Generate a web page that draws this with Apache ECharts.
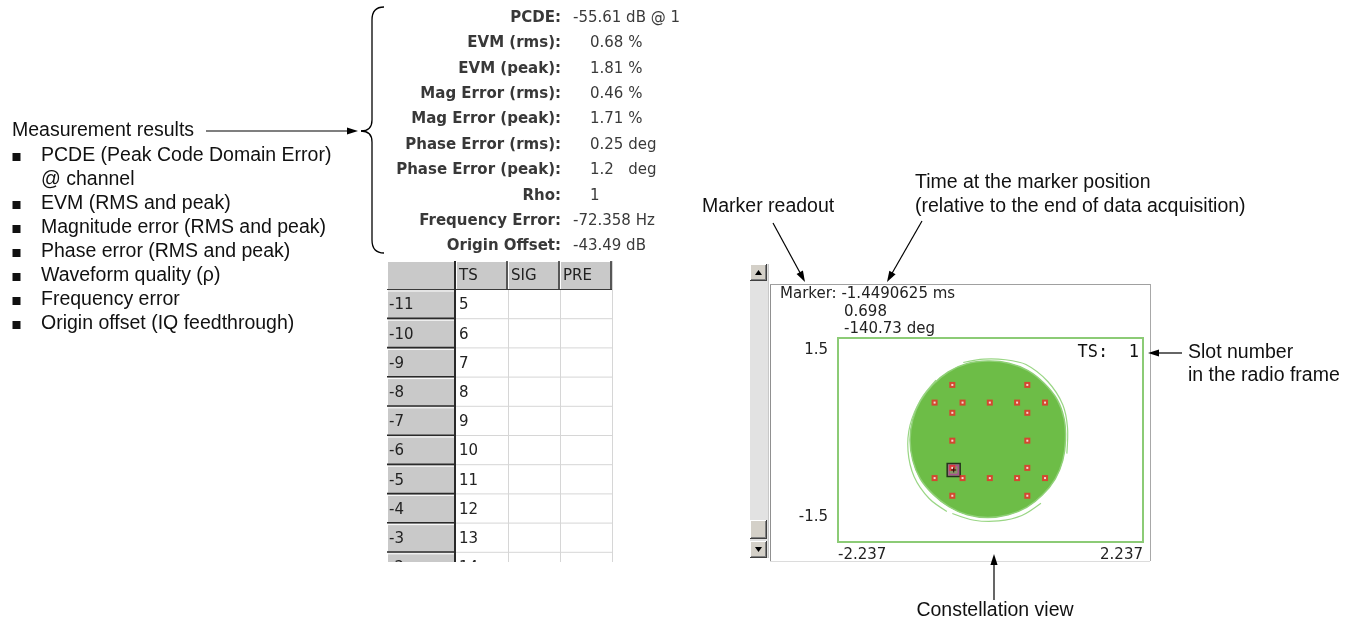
<!DOCTYPE html>
<html>
<head>
<meta charset="utf-8">
<script src="https://cdn.jsdelivr.net/npm/echarts@6/dist/echarts.min.js"></script>
<style>html,body{margin:0;padding:0;background:#fff;}#c{width:1354px;height:624px;}</style>
</head>
<body>
<div id="c"></div>
<script>
// ---- data ----
const xTickLabels = [-2.237, 2.237];
const yTickLabels = [-1.5, 1.5];
const symbolPoints = [
  [-0.56, 0.81], [0.54, 0.81],
  [-0.82, 0.55], [-0.41, 0.55], [-0.01, 0.55], [0.39, 0.55], [0.80, 0.55],
  [-0.56, 0.40], [0.54, 0.40],
  [-0.56, -0.01], [0.54, -0.01],
  [-0.56, -0.41], [0.54, -0.41],
  [-0.82, -0.56], [-0.41, -0.56], [-0.01, -0.56], [0.39, -0.56], [0.80, -0.56],
  [-0.56, -0.82], [0.54, -0.82]
];
const markerPoint = [-0.540, -0.442];
const cloudOutline = [
  [1.10, 0.00], [1.08, 0.31], [0.98, 0.59], [0.79, 0.83], [0.55, 1.02], [0.27, 1.13],
  [-0.04, 1.16], [-0.35, 1.12], [-0.62, 1.00], [-0.85, 0.81], [-1.03, 0.57], [-1.14, 0.30],
  [-1.18, 0.00], [-1.14, -0.30], [-1.03, -0.57], [-0.84, -0.80], [-0.61, -0.98], [-0.34, -1.10],
  [-0.04, -1.14], [0.26, -1.10], [0.53, -0.99], [0.76, -0.81], [0.95, -0.57], [1.06, -0.30]
];
const cloudLoopLeft = [[-0.80, 0.88], [-1.02, 0.60], [-1.18, 0.22], [-1.21, -0.16], [-1.12, -0.54], [-0.90, -0.86], [-0.64, -1.05]];
const cloudLoopBottom = [[-0.56, -1.08], [-0.24, -1.18], [0.12, -1.19], [0.46, -1.11], [0.74, -0.93]];
const cloudLoopTop = [[-0.40, 1.14], [-0.10, 1.19], [0.22, 1.18], [0.52, 1.11], [0.84, 0.86], [1.06, 0.52], [1.13, 0.18], [1.12, -0.20]];

const resultLabels = ['PCDE:', 'EVM (rms):', 'EVM (peak):', 'Mag Error (rms):', 'Mag Error (peak):',
  'Phase Error (rms):', 'Phase Error (peak):', 'Rho:', 'Frequency Error:', 'Origin Offset:'];
const resultValues = ['-55.61 dB @ 1', '0.68 %', '1.81 %', '0.46 %', '1.71 %',
  '0.25 deg', '1.2   deg', '1', '-72.358 Hz', '-43.49 dB'];
const listItems = ['PCDE (Peak Code Domain Error)', '@ channel', 'EVM (RMS and peak)',
  'Magnitude error (RMS and peak)', 'Phase error (RMS and peak)', 'Waveform quality (\u03c1)',
  'Frequency error', 'Origin offset (IQ feedthrough)'];
const listBullets = [true, false, true, true, true, true, true, true];
const tableHeaders = ['TS', 'SIG', 'PRE'];
const tableRowLabels = ['-11', '-10', '-9', '-8', '-7', '-6', '-5', '-4', '-3', '-2'];
const tableTS = ['5', '6', '7', '8', '9', '10', '11', '12', '13', '14'];
const markerReadout = ['Marker: -1.4490625 ms', '0.698', '-140.73 deg'];
const slotLabel = 'TS:  1';

// ---- styles ----
const ANN = 'Liberation Sans, Arial, Helvetica, sans-serif';
const UI = 'DejaVu Sans, Tahoma, sans-serif';
const annFont = '19.5px ' + ANN;
const uiFont = '15px ' + UI;

const g = [];
function text(t, x, y, font, align, vAlign, fill) {
  g.push({ type: 'text', silent: true, x: x, y: y, z: 10,
    style: { text: t, font: font, fill: fill || '#111', align: align || 'left', verticalAlign: vAlign || 'middle' } });
}
function line(x1, y1, x2, y2, stroke, w, z) {
  g.push({ type: 'line', silent: true, z: z || 5, shape: { x1: x1, y1: y1, x2: x2, y2: y2 },
    style: { stroke: stroke || '#000', lineWidth: w || 1 } });
}
function curve(x1, y1, cx, cy, x2, y2) {
  g.push({ type: 'bezierCurve', silent: true, z: 5, shape: { x1: x1, y1: y1, x2: x2, y2: y2, cpx1: cx, cpy1: cy },
    style: { stroke: '#000', lineWidth: 1.3, fill: null } });
}
function rect(x, y, w, h, fill, stroke, lw, z) {
  g.push({ type: 'rect', silent: true, z: z || 1, shape: { x: x, y: y, width: w, height: h },
    style: { fill: fill || 'none', stroke: stroke || null, lineWidth: lw || 1 } });
}
function arrow(x1, y1, x2, y2) {
  const dx = x2 - x1, dy = y2 - y1, L = Math.sqrt(dx * dx + dy * dy);
  const ux = dx / L, uy = dy / L, hl = 11, hw = 3.6;
  const bx = x2 - ux * hl, by = y2 - uy * hl;
  line(x1, y1, bx + ux * 2, by + uy * 2, '#000', 1.2, 12);
  g.push({ type: 'polygon', silent: true, z: 12, shape: { points: [[x2, y2], [bx - uy * hw, by + ux * hw], [bx + uy * hw, by - ux * hw]] },
    style: { fill: '#000' } });
}
function bevelButton(x, y, w, h) {
  rect(x, y, w, h, '#d4d0c8', null, 1, 3);
  line(x, y + 0.5, x + w, y + 0.5, '#ffffff', 1, 4);
  line(x + 0.5, y, x + 0.5, y + h, '#ffffff', 1, 4);
  line(x, y + h - 0.5, x + w, y + h - 0.5, '#404040', 1, 4);
  line(x + w - 0.5, y, x + w - 0.5, y + h, '#404040', 1, 4);
  line(x + 1, y + h - 1.5, x + w - 1, y + h - 1.5, '#808080', 1, 4);
  line(x + w - 1.5, y + 1, x + w - 1.5, y + h - 1, '#808080', 1, 4);
}

// ---- left list ----
text('Measurement results', 12, 131, annFont);
arrow(206, 131, 358, 131);
let ly = 156;
listItems.forEach(function (t, i) {
  const y = ly + i * 24;
  if (listBullets[i]) rect(12.5, y - 3, 8, 8, '#111', null, 1, 5);
  text(t, 41, y, annFont);
});

// ---- brace ----
curve(384, 7, 372, 7, 372, 20);
line(372, 20, 372, 120, '#000', 1.3);
curve(372, 120, 372, 131, 361, 131);
curve(361, 131, 372, 131, 372, 142);
line(372, 142, 372, 240, '#000', 1.3);
curve(372, 240, 372, 253, 384, 253);

// ---- measurement panel ----
resultLabels.forEach(function (t, i) {
  const y = 18 + i * 25.4;
  text(t, 561, y, 'bold ' + uiFont, 'right', 'middle', '#383838');
  const v = resultValues[i];
  text(v, v.charAt(0) === '-' ? 573 : 590, y, uiFont, 'left', 'middle', '#3a3a3a');
});

// ---- table ----
const colX = [387, 456, 508, 560, 612];
const headTop = 261, headBot = 290, rowH = 29.2;
rect(colX[0], headTop, colX[4] - colX[0], 330, '#ffffff', null, 1, 1);
for (let c = 0; c < 4; c++) {
  rect(colX[c], headTop, colX[c + 1] - colX[c], headBot - headTop, '#c9c9c9', null, 1, 2);
  line(colX[c], headTop + 0.5, colX[c + 1], headTop + 0.5, '#ffffff', 1, 3);
  line(colX[c] + 0.5, headTop, colX[c] + 0.5, headBot, '#ffffff', 1, 3);
  line(colX[c + 1] - 1, headTop, colX[c + 1] - 1, headBot, '#3a3a3a', 1.6, 4);
  line(colX[c], headBot - 0.5, colX[c + 1], headBot - 0.5, '#3a3a3a', 1, 4);
  if (c > 0) text(tableHeaders[c - 1], colX[c] + 3, (headTop + headBot) / 2 + 1, uiFont, 'left', 'middle', '#222');
}
tableRowLabels.forEach(function (lab, r) {
  const y0 = headBot + r * rowH, y1 = y0 + rowH;
  rect(colX[0], y0, colX[1] - colX[0], rowH, '#c9c9c9', null, 1, 2);
  line(colX[0], y0 + 1, colX[1], y0 + 1, '#ffffff', 1, 3);
  line(colX[0] + 0.5, y0, colX[0] + 0.5, y1, '#ffffff', 1, 3);
  line(colX[0], y1 - 0.8, colX[1], y1 - 0.8, '#2a2a2a', 1.6, 4);
  for (let c = 1; c < 4; c++) {
    line(colX[c], y1 - 0.5, colX[c + 1], y1 - 0.5, '#d6d6d6', 1, 2);
  }
  text(lab, colX[0] + 2, y0 + rowH / 2 + 1, uiFont, 'left', 'middle', '#222');
  text(tableTS[r], colX[1] + 3, y0 + rowH / 2 + 1, uiFont, 'left', 'middle', '#222');
});
line(colX[2] + 0.5, headBot, colX[2] + 0.5, 600, '#d6d6d6', 1, 2);
line(colX[3] + 0.5, headBot, colX[3] + 0.5, 600, '#d6d6d6', 1, 2);
line(colX[4] + 0.5, headTop, colX[4] + 0.5, 600, '#d6d6d6', 1, 2);
line(colX[1] - 1, headTop, colX[1] - 1, 600, '#2a2a2a', 2, 4);
rect(370, 562, 260, 62, '#ffffff', null, 1, 20);

// ---- constellation panel frame & scrollbar ----
line(770.5, 284, 770.5, 561, '#909090', 1, 2);
line(770, 284.5, 1150, 284.5, '#a0a0a0', 1, 2);
line(1150.5, 284, 1150.5, 561, '#a8a8a8', 1, 2);
line(770, 561.5, 1150, 561.5, '#dcdcdc', 1, 2);
rect(750, 264, 18, 294, '#e2e2e2', null, 1, 2);
line(768.5, 264, 768.5, 558, '#c8c8c8', 1, 2);
bevelButton(750, 264, 17, 17);
bevelButton(750, 520, 17, 19);
bevelButton(750, 541, 17, 17);
g.push({ type: 'polygon', silent: true, z: 6, shape: { points: [[758.5, 270], [755, 275], [762, 275]] }, style: { fill: '#000' } });
g.push({ type: 'polygon', silent: true, z: 6, shape: { points: [[755, 547], [762, 547], [758.5, 552]] }, style: { fill: '#000' } });

text(markerReadout[0], 780, 294, uiFont, 'left', 'middle', '#222');
text(markerReadout[1], 844, 312, uiFont, 'left', 'middle', '#222');
text(markerReadout[2], 844, 329, uiFont, 'left', 'middle', '#222');
text(slotLabel, 1139, 353, '17px DejaVu Sans Mono, monospace', 'right', 'middle', '#111');

// ---- callouts ----
text('Marker readout', 702, 207, annFont);
arrow(773, 223, 805, 282);
text('Time at the marker position', 915, 183, annFont);
text('(relative to the end of data acquisition)', 915, 207, annFont);
arrow(922, 221, 887, 282);
text('Slot number', 1188, 353, annFont);
text('in the radio frame', 1188, 376, annFont);
arrow(1182, 353, 1148, 353);
text('Constellation view', 995, 611, annFont, 'center');
arrow(994, 600, 994, 554);

// ---- chart ----
const chart = echarts.init(document.getElementById('c'), null, { renderer: 'canvas' });
const axisLabelStyle = { fontFamily: UI, fontSize: 15, color: '#222' };
chart.setOption({
  animation: false,
  backgroundColor: '#ffffff',
  grid: { left: 838, top: 338, width: 305, height: 204, show: true, borderColor: '#8ccb76', borderWidth: 2, backgroundColor: '#ffffff', z: 3 },
  xAxis: {
    type: 'value', min: xTickLabels[0], max: xTickLabels[1], z: 20,
    axisLine: { show: false }, axisTick: { show: false }, splitLine: { show: false },
    axisLabel: Object.assign({ customValues: xTickLabels, margin: 6, alignMinLabel: 'left', alignMaxLabel: 'right',
      showMinLabel: true, showMaxLabel: true, formatter: function (v) { return v.toFixed(3); } }, axisLabelStyle)
  },
  yAxis: {
    type: 'value', min: yTickLabels[0], max: yTickLabels[1], z: 20,
    axisLine: { show: false }, axisTick: { show: false }, splitLine: { show: false },
    axisLabel: Object.assign({ customValues: yTickLabels, margin: 10, showMinLabel: true, showMaxLabel: true,
      formatter: function (v) { return v > 0 ? '{t|' + v.toFixed(1) + '}' : '{b|' + v.toFixed(1) + '}'; },
      rich: {
        t: { fontFamily: UI, fontSize: 15, color: '#222', padding: [25, 0, 0, 0] },
        b: { fontFamily: UI, fontSize: 15, color: '#222', padding: [0, 0, 49, 0] }
      } }, axisLabelStyle)
  },
  series: [
    {
      type: 'custom', name: 'trajectory', clip: false, z: 4,
      data: [[0, 0]],
      renderItem: function (params, api) {
        const poly = cloudOutline.map(function (p) { return api.coord(p); });
        const mk = function (arr) { return arr.map(function (p) { return api.coord(p); }); };
        return {
          type: 'group', children: [
            { type: 'polygon', shape: { points: poly, smooth: 0.4 }, style: { fill: '#6dbd47', stroke: '#8fd076', lineWidth: 1.5 } },
            { type: 'polyline', shape: { points: mk(cloudLoopLeft), smooth: 0.3 }, style: { fill: null, stroke: '#9ad685', lineWidth: 1.2 } },
            { type: 'polyline', shape: { points: mk(cloudLoopBottom), smooth: 0.3 }, style: { fill: null, stroke: '#9ad685', lineWidth: 1.2 } },
            { type: 'polyline', shape: { points: mk(cloudLoopTop), smooth: 0.3 }, style: { fill: null, stroke: '#9ad685', lineWidth: 1.2 } }
          ]
        };
      }
    },
    {
      type: 'scatter', name: 'marker box', z: 5, data: [markerPoint], symbol: 'rect', symbolSize: 13,
      itemStyle: { color: '#8e8a6e', borderColor: '#111', borderWidth: 1.5 }, silent: true
    },
    {
      type: 'scatter', name: 'marker ring', z: 6, data: [markerPoint], symbol: 'rect', symbolSize: 9,
      itemStyle: { color: 'rgba(0,0,0,0)', borderColor: '#b23d9c', borderWidth: 1.4 }, silent: true
    },
    {
      type: 'scatter', name: 'symbols', z: 7, data: symbolPoints, symbol: 'rect', symbolSize: 6,
      itemStyle: { color: '#ec2b2b' }, silent: true
    },
    {
      type: 'scatter', name: 'symbol centres', z: 8, data: symbolPoints, symbol: 'rect', symbolSize: 2,
      itemStyle: { color: '#ffffff' }, silent: true
    },
    {
      type: 'scatter', name: 'marker', z: 9, data: [markerPoint],
      symbol: 'path://M2,0h1v2h2v1h-2v2h-1v-2h-2v-1h2z', symbolSize: 5,
      itemStyle: { color: '#000' }, silent: true
    }
  ],
  graphic: g
});
</script>
</body>
</html>
